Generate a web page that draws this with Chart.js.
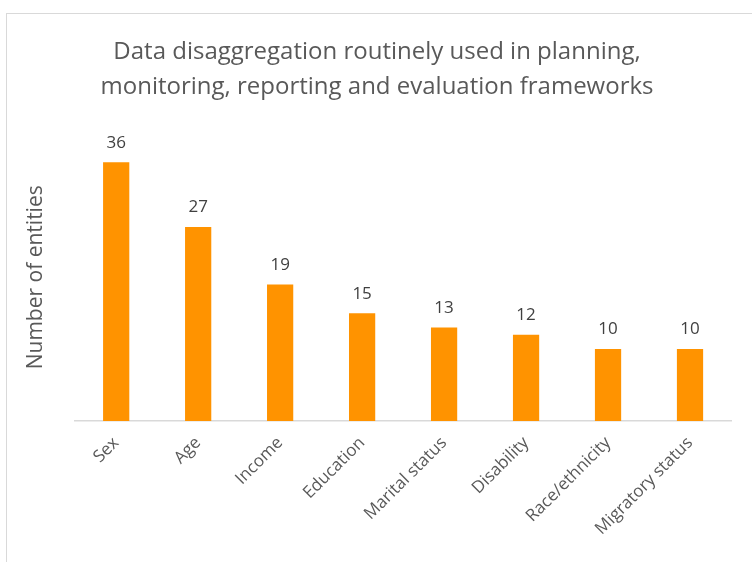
<!DOCTYPE html>
<html>
<head>
<meta charset="utf-8">
<script src="https://cdn.jsdelivr.net/npm/chart.js@4"></script>
<style>
  body { margin: 0; background: #fff; }
  #marco { position: absolute; left: 6px; top: 13px; width: 800px; height: 600px; border: 1px solid #d9d9d9; }
  #contenedor { position: absolute; left: 0; top: 0; width: 752px; height: 562px; }
</style>
</head>
<body>
<div id="marco"></div>
<div id="contenedor"><canvas id="grafico"></canvas></div>
<script>
// datos del grafico
var categorias = ['Sex', 'Age', 'Income', 'Education', 'Marital status', 'Disability', 'Race/ethnicity', 'Migratory status'];
var entidades = [36, 27, 19, 15, 13, 12, 10, 10];
var tituloLineas = ['Data disaggregation routinely used in planning,', 'monitoring, reporting and evaluation frameworks'];
var tituloEjeY = 'Number of entities';

var fuente = "'Open Sans', 'DejaVu Sans', sans-serif";

// etiquetas con el valor encima de cada barra
var etiquetasValor = {
    id: 'etiquetasValor',
    afterDatasetsDraw: function (chart) {
        var ctx = chart.ctx;
        var meta = chart.getDatasetMeta(0);
        ctx.save();
        ctx.font = '17px ' + fuente;
        ctx.fillStyle = '#404040';
        ctx.textAlign = 'center';
        ctx.textBaseline = 'bottom';
        meta.data.forEach(function (barra, i) {
            ctx.fillText(entidades[i], barra.x, barra.y - 11);
        });
        ctx.restore();
    }
};

var ctx = document.getElementById('grafico').getContext('2d');
var miGrafico = new Chart(ctx, {
    type: 'bar',
    data: {
        labels: categorias,
        datasets: [{
            data: entidades,
            backgroundColor: '#FF9300',
            borderWidth: 0,
            categoryPercentage: 1,
            barPercentage: 0.32
        }]
    },
    options: {
        responsive: true,
        maintainAspectRatio: false,
        animation: false,
        layout: { padding: { left: 23, right: 21, top: 35, bottom: 19 } },
        plugins: {
            legend: { display: false },
            tooltip: { enabled: false },
            title: {
                display: true,
                text: tituloLineas,
                color: '#595959',
                font: { family: fuente, size: 24, weight: 'normal', lineHeight: 1.45 },
                padding: { top: 0, bottom: 29 }
            }
        },
        scales: {
            x: {
                grid: { display: false },
                border: { color: '#d9d9d9', width: 1.5 },
                ticks: {
                    color: '#595959',
                    font: { family: fuente, size: 17 },
                    minRotation: 45,
                    maxRotation: 45,
                    padding: 4
                }
            },
            y: {
                min: 0,
                max: 40,
                grid: { display: false },
                border: { display: false },
                ticks: { display: false },
                title: {
                    display: true,
                    text: tituloEjeY,
                    color: '#595959',
                    font: { family: fuente, size: 21 },
                    padding: { top: 0, bottom: 19 }
                }
            }
        }
    },
    plugins: [etiquetasValor]
});
</script>
</body>
</html>
